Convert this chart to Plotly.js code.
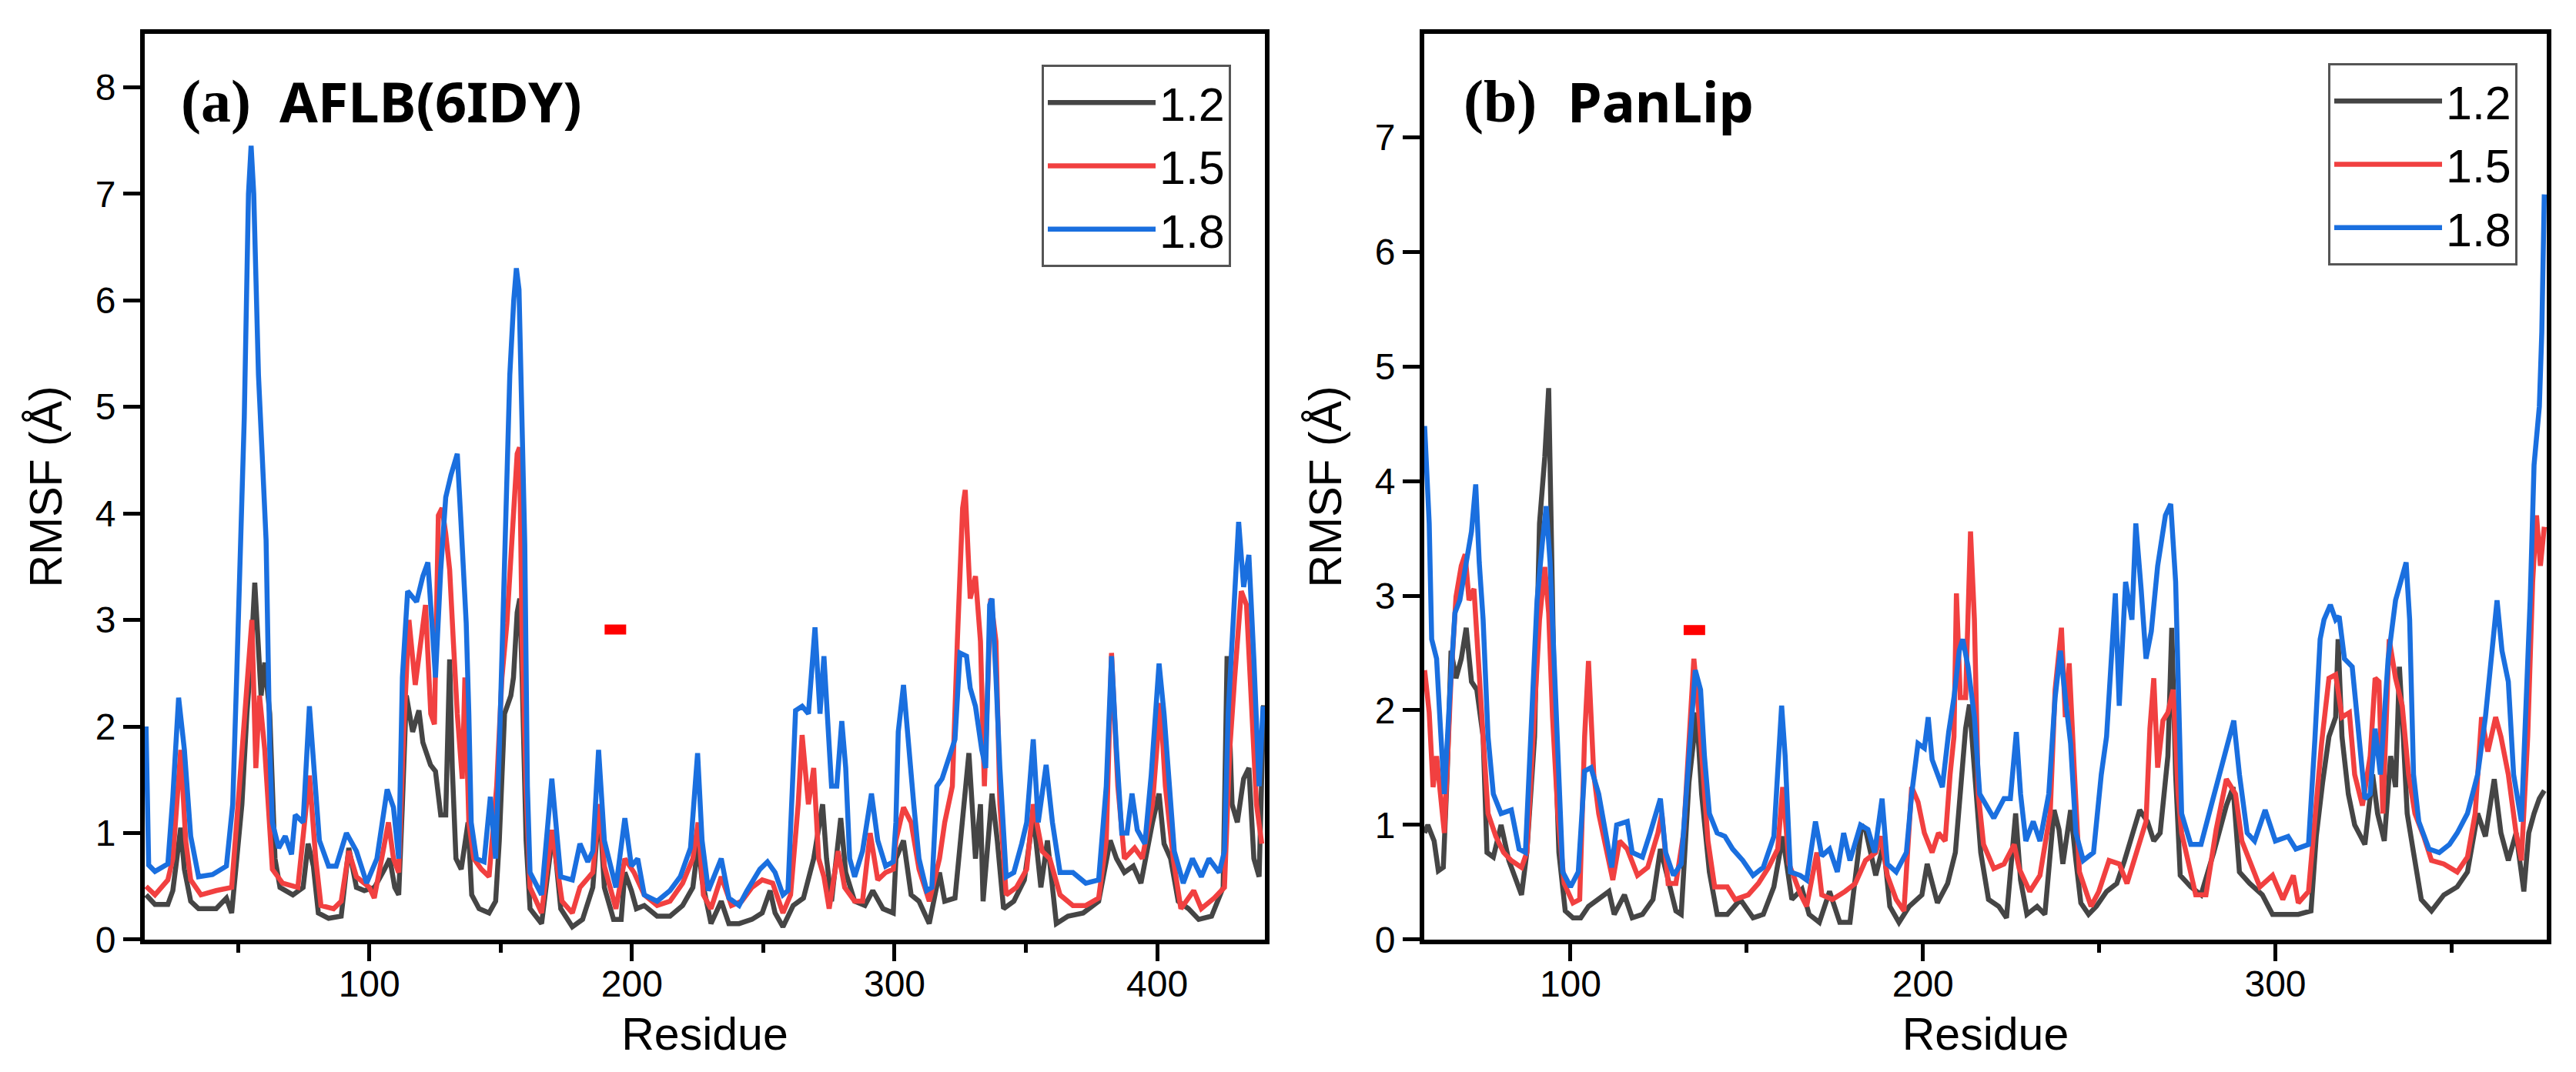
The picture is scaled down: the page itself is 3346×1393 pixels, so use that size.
<!DOCTYPE html>
<html>
<head>
<meta charset="utf-8">
<script src="https://cdn.plot.ly/plotly-3.0.1.min.js"></script>
<style>
  html, body { margin: 0; padding: 0; background: #fff; }
  #chart { width: 3346px; height: 1393px; }
</style>
</head>
<body>
<div id="chart"></div>
<script>
// ---- data: residue index vs RMSF (Å) ----

// (a) AFLB(6IDY)
var aX12 = [15,18.4,23.3,25.2,28.2,29.6,32,35,41.7,45.6,47.6,49.5,51.5,53.4,54.9,56.4,57.8,58.8,60.2,62.1,63.1,64.1,66,70.9,74.8,76.7,78.7,80.6,84.5,89.3,92.2,95.1,98.1,102,105.8,107.8,109.7,111.2,112.6,114.1,116.5,118.9,120.4,123.3,125.2,127.2,129.1,130.6,131.6,133,135,137.6,139,141.8,145.6,148.1,149.5,151.5,153.9,154.9,156.3,157.3,158.2,159.7,161.2,165.6,170,172.9,177.3,181.2,185.1,187.6,189.5,193,195.9,197.3,199.8,201.7,204.7,209.6,214.5,219.3,223.2,225.2,226.7,230.1,234,236.9,240.8,245.7,249.6,252.6,254.5,257.5,261.4,265.3,269.2,272.6,274.1,276,279.5,281.4,284.8,288.7,291.7,295.6,299.5,300.5,303.4,306.3,309.3,313.2,317.1,319.1,323,325.9,328.3,330.8,332.7,333.7,337.1,339.1,341.5,345.4,349.4,352.8,355.7,358.2,361.6,366,371.8,377.7,382.1,384.5,387.5,390.9,393.8,398.2,400.7,402.6,405.1,408,411.9,415.8,420.7,425.1,426.6,428.5,430.5,432.9,434.9,436.8,438.8,440.5];
var aY12 = [0.42,0.33,0.33,0.46,1.05,0.66,0.36,0.29,0.29,0.39,0.25,0.76,1.27,2.12,2.63,3.35,2.8,2.29,2.6,2.12,1.44,0.76,0.49,0.42,0.49,0.9,0.69,0.25,0.2,0.22,0.86,0.49,0.46,0.49,0.66,0.76,0.49,0.42,1.27,2.29,1.95,2.15,1.85,1.64,1.58,1.17,1.17,2.63,1.61,0.76,0.66,1.1,0.42,0.29,0.25,0.36,0.93,2.12,2.29,2.46,3.07,3.2,2.46,0.93,0.29,0.15,1.03,0.29,0.12,0.19,0.49,1.27,0.49,0.19,0.19,0.63,0.46,0.29,0.32,0.22,0.22,0.32,0.49,0.9,0.56,0.15,0.36,0.15,0.15,0.19,0.25,0.46,0.25,0.12,0.32,0.39,0.76,1.27,0.76,0.36,1.14,0.63,0.36,0.32,0.46,0.29,0.25,0.76,0.93,0.42,0.36,0.15,0.63,0.36,0.39,1.1,1.75,0.76,1.27,0.36,1.37,0.93,0.29,0.36,0.56,1.17,0.49,0.93,0.15,0.22,0.25,0.36,0.93,0.76,0.63,0.69,0.53,1.1,1.37,0.9,0.76,0.36,0.29,0.19,0.22,0.49,2.66,1.27,1.1,1.51,1.61,0.76,0.59,2.2];

var aX15 = [15,18.4,23.3,25.2,28.2,30.1,32,35.9,41.7,47.6,49.5,51.5,53.4,55.3,56.8,58.2,60.2,61.7,63.1,67,72.8,77.2,79.6,81.6,86.4,89.3,92.2,95.1,100,101.9,105.8,107.3,109.2,111.2,113.1,115.1,117.5,121.4,123.4,124.8,126.3,127.7,129.1,130.6,132,133.5,135.4,136.4,137.9,139.8,142.7,145.6,148.5,150.5,152.4,154.4,156.3,157.2,158.2,159.7,161.2,165.6,169.5,173.4,177.3,180.2,185.1,187.6,189.5,193.9,197.3,200.8,204.7,209.6,214.5,219.3,223.2,225.2,227.2,230.1,234,237.9,241.8,245.7,249.6,253.6,257.5,260.4,263.3,264.8,267.2,269.2,271.1,273.1,275.1,278.5,281,284.8,287.8,290.7,293.6,296.6,299.5,300.5,303.4,306.3,309.3,313.2,317.1,319.1,322,323.9,325.9,326.9,328.8,330.8,332.7,334.2,336.6,338.6,340.1,342.5,346.4,350.3,352.8,356.2,359.1,363,367.9,372.8,377.7,380.6,382.6,385,387.5,391.4,394.3,398.2,401.2,403.1,406.1,409,413.9,416.8,421.7,425.6,427.6,429.5,432,434,435.9,437.8,439.8];
var aY15 = [0.5,0.42,0.56,0.76,1.78,0.93,0.56,0.42,0.46,0.49,1.1,1.78,2.46,3.0,1.61,2.29,1.78,1.1,0.66,0.53,0.49,1.54,0.76,0.32,0.29,0.36,0.83,0.59,0.49,0.39,0.93,1.1,0.76,0.63,1.95,3.0,2.39,3.14,2.12,2.02,3.98,4.05,3.81,3.47,2.8,2.12,1.51,2.46,1.1,0.76,0.66,0.59,1.44,2.46,2.97,3.81,4.56,4.62,2.8,1.44,0.49,0.25,1.03,0.36,0.25,0.49,0.63,1.27,0.69,0.29,0.76,0.63,0.42,0.32,0.36,0.53,0.76,1.1,0.42,0.29,0.59,0.32,0.36,0.49,0.56,0.53,0.25,0.42,1.27,1.92,1.27,1.61,0.76,0.59,0.29,0.83,0.49,0.36,0.36,1.0,0.56,0.63,0.66,0.93,1.24,1.1,0.66,0.36,0.76,1.1,1.44,2.8,4.05,4.22,3.2,3.41,2.8,1.44,3.2,2.8,1.27,0.42,0.49,0.66,1.27,0.83,0.76,0.42,0.32,0.32,0.39,0.93,2.69,1.44,0.76,0.86,0.76,1.27,2.22,1.44,0.76,0.29,0.46,0.29,0.39,0.49,1.78,2.46,3.27,3.14,2.29,1.27,0.9];

var aX18 = [15,16,18.4,23.3,25.2,27.4,29.6,32,35,40.3,45.6,48,49.5,51,52.4,54,55,56,57,57.8,59.2,60.7,61.2,62.1,63.1,65.5,68,70.4,71.8,74.8,77.2,79.6,81,84.5,87.4,91.3,95.1,99,102.9,106.8,109.2,111.2,112.6,114.6,118,120.4,122.3,124.3,125.2,127.2,129.1,131.1,133.5,134.9,136.9,137.9,138.8,140.8,143.7,146.1,148.1,149.5,151,152.4,153.5,155,156,157,158,159.2,160.2,161.2,165.6,169.5,172.9,177.3,180.2,183.2,185.1,187.3,189.5,193.9,197.3,199.8,202.2,204.7,209.6,214.5,218.4,222.3,225,226.7,229.1,234,236.9,240.8,243.8,248.7,251.6,254.5,257.5,259.4,261.4,262.3,264.8,267.2,269.7,271.6,273.1,274.6,276,278,279.9,281.4,282.9,284.8,287.8,291.2,293.6,296.6,299.5,300.5,301.4,303.4,305.4,307.3,309.3,312.2,314.2,316.1,318.1,320.5,323,324.9,327.4,328.8,330.8,333.2,334.7,336.2,337.1,338.6,340.1,342.5,345.4,348.4,350.3,352.8,354.7,357.7,360.1,363,367.9,372.8,377.7,380.6,382.6,384.5,386.5,388.5,390.4,392.4,395.3,397.7,400.7,402.6,404.6,406.5,409.9,413.4,416.8,419.7,423.6,425.6,427,429,431,432.9,434.9,436.8,438.8,440.3];
var aY18 = [2.0,0.7,0.64,0.71,1.34,2.27,1.78,0.97,0.59,0.61,0.69,1.27,2.46,3.64,4.9,7.0,7.45,7.0,6.0,5.3,4.56,3.75,3.07,1.78,1.1,0.86,0.97,0.8,1.17,1.1,2.19,1.44,0.93,0.69,0.69,1.0,0.83,0.53,0.76,1.41,1.24,0.76,2.46,3.27,3.17,3.41,3.54,2.8,2.46,3.47,4.15,4.36,4.56,3.92,2.97,2.12,1.1,0.76,0.73,1.34,0.76,1.78,3.07,4.32,5.3,6.0,6.3,6.1,5.2,3.71,1.44,0.63,0.42,1.51,0.59,0.56,0.9,0.73,0.83,1.78,0.93,0.49,1.14,0.69,0.76,0.42,0.36,0.46,0.59,0.86,1.75,0.93,0.46,0.76,0.39,0.32,0.46,0.66,0.73,0.63,0.42,0.46,1.61,2.15,2.19,2.12,2.93,2.12,2.66,1.95,1.44,1.44,2.05,1.61,0.76,0.59,0.83,1.37,0.93,0.69,0.73,1.1,1.95,2.39,1.78,1.27,0.76,0.46,0.49,1.44,1.51,1.68,1.88,2.69,2.66,2.36,2.19,1.78,1.61,3.14,3.2,2.46,1.61,0.59,0.63,0.9,1.1,1.88,1.1,1.64,1.1,0.63,0.63,0.53,0.56,1.44,2.66,1.78,1.0,1.0,1.37,1.03,0.9,1.54,2.59,2.12,1.51,0.83,0.53,0.76,0.59,0.76,0.63,0.83,2.12,2.97,3.92,3.31,3.61,2.63,1.44,2.19];

// (b) PanLip
var bX12 = [58.6,59.5,61.3,62.5,63.9,65,66.1,67.5,69,70.4,71.9,73.4,75.2,76.3,78.1,80.3,82.5,86.1,87.6,89.8,91.2,92.7,93.8,94.9,95.6,96.7,98.5,100.7,102.9,105.1,108,110.9,112.4,115.3,117.5,120.4,123.4,125.5,127.4,129.9,131.4,133.6,135.8,137.2,139.4,141.6,144.5,148.2,151.8,154.7,157.7,160.2,162.8,165.7,167.7,170.6,173.5,176.4,179.3,182.6,183.7,186.6,188.8,190.6,193.2,196.1,199.7,201.2,204.1,207,209.2,210.6,212.1,213.2,214.6,216.4,218.6,221.5,223.7,226.3,227.7,229.5,232.4,234.6,237.2,238.6,239.7,241.9,243.4,244.8,247,249.2,252.1,255,257.2,259.3,261.5,263.7,265.5,267.3,269.5,270.6,271.7,273,276,278.9,282.5,286.1,288,289.8,292.7,296.3,299.2,302.9,306.5,310.1,311.6,313.4,315.2,317.1,317.8,318.9,320.7,322.5,325.4,327.6,329,330.9,332.7,334.1,335.2,336.3,337.4,339.2,341.4,344.3,347.8,351.6,354.5,357.4,359.6,362.1,364,366.1,368.3,370.5,371.9,373.4,374.9,376.3];
var bY12 = [0.93,1.0,0.86,0.6,0.63,1.44,2.52,2.28,2.45,2.72,2.25,2.18,1.77,0.76,0.72,1.0,0.69,0.39,0.76,1.77,3.63,4.21,4.81,3.13,1.77,0.76,0.25,0.19,0.19,0.29,0.35,0.42,0.22,0.39,0.19,0.22,0.35,0.79,0.56,0.25,0.22,1.37,1.98,1.27,0.59,0.22,0.22,0.35,0.19,0.22,0.46,0.9,0.35,0.44,0.22,0.15,0.42,0.15,0.15,1.0,0.96,0.56,0.83,0.29,0.15,0.29,0.39,0.66,0.32,0.49,0.76,1.27,1.84,2.05,1.44,0.76,0.35,0.29,0.19,1.1,0.52,0.22,0.29,0.22,1.13,0.96,0.66,1.13,0.69,0.32,0.22,0.29,0.42,0.49,0.69,0.9,1.13,1.03,0.86,0.93,1.6,2.72,1.44,0.56,0.46,0.39,0.76,1.17,1.33,0.59,0.49,0.39,0.22,0.22,0.22,0.25,0.9,1.37,1.77,1.94,2.62,1.77,1.27,1.0,0.83,1.44,1.1,0.86,1.6,1.33,2.38,1.77,1.1,0.76,0.35,0.25,0.39,0.46,0.59,1.1,0.9,1.4,0.93,0.69,0.93,0.42,0.93,1.1,1.23,1.3];

var bX15 = [58.6,59.9,61,62,64.2,66.1,67.5,69,70.1,71.2,72.6,73.7,75.2,76.6,78.8,81,83.2,86.1,87.6,89.4,91.2,92.7,93.8,94.9,96.4,98.2,100.7,102.6,104,105.1,106.6,108,110.2,112,113.9,116.1,119,121.9,124.8,125.9,127.7,129.9,132.1,133.6,135,136.5,137.6,139,140.9,144.5,146.7,150.4,153.3,156.2,158.8,160.2,162,165.2,167,169.9,171.3,174.3,177.9,180.8,183.7,186.6,188.1,189.9,192.4,194.6,196.8,198.6,200.4,202.6,204.4,206.3,207.7,208.8,209.5,210.6,212.1,213.5,214.6,215.7,217.2,220.1,223,225.9,227.3,230.3,233.2,236.1,237.5,239.3,240.4,241.5,243,244.4,247.7,249.9,252.8,255.7,257.9,260.8,263.3,264.4,265.5,266.6,268.1,269.5,271,272.4,273.4,275.2,277.4,280.3,283.2,286.1,288.7,290.5,292.7,295.6,299.2,302.1,305.1,306.5,309.4,311.2,313.1,315.2,317.1,318.9,321,322.5,324.7,326.9,328.3,329.4,330.5,332.3,334.1,336,337.8,339.6,342.1,344.3,347.8,351.6,354.5,356.7,358.5,360.3,362.5,364,366.1,368.3,369.8,371.6,373,374.1,375.2,376.3];
var bY15 = [2.35,1.98,1.33,1.6,0.93,2.28,2.99,3.26,3.36,2.96,3.06,2.45,1.77,1.1,0.9,0.76,0.69,0.63,0.76,1.77,2.79,3.25,2.85,1.94,1.1,0.49,0.32,0.35,1.77,2.43,1.44,1.1,0.79,0.52,0.86,0.79,0.56,0.63,0.93,1.1,0.49,0.49,0.93,1.77,2.45,1.94,1.44,0.86,0.46,0.46,0.35,0.39,0.49,0.63,0.79,1.33,0.66,0.4,0.29,0.76,0.39,0.35,0.42,0.49,0.69,0.76,0.9,0.56,0.35,0.25,1.33,1.2,0.93,0.76,0.93,0.86,1.44,1.77,3.02,2.11,2.11,3.56,2.79,1.27,0.83,0.62,0.66,0.83,0.62,0.42,0.56,1.1,2.18,2.72,1.94,2.41,1.44,0.59,0.29,0.42,0.69,0.66,0.49,0.79,1.03,1.84,2.28,1.5,1.91,1.98,2.18,1.27,0.93,0.69,0.39,0.39,0.96,1.4,1.27,0.86,0.69,0.46,0.56,0.35,0.56,0.32,0.42,1.1,1.71,2.28,2.31,1.94,1.98,1.44,1.17,1.6,2.28,2.25,1.1,2.62,2.28,2.04,1.44,1.1,0.9,0.69,0.66,0.59,0.72,1.1,1.94,1.64,1.94,1.77,1.44,0.93,0.69,1.77,3.12,3.7,3.26,3.6];

var bX18 = [58.6,59.9,60.6,62,63.1,64.2,65.7,67.2,68.6,70.4,71.9,73.1,74.1,75.2,76.6,78.1,80.3,83.2,85.4,87.2,89.1,90.5,92,93.1,94.2,95.3,96.4,97.8,100,102.2,104,105.8,108,110.2,111.7,113.1,116.1,117.5,120.4,122.6,125.5,127,129.2,131.4,133.6,135.4,136.9,138,139.4,141.6,143.8,146,148.9,151.8,154.7,157.7,159.9,160.9,162.4,165.2,167,169.5,171.3,173.5,175.7,177.5,179.3,182.3,184.4,186.3,188.4,189.9,192.4,195.3,196.8,198.6,200.4,201.5,202.6,205.5,207.3,208.8,210.3,211.3,212.8,214.6,216.1,217.9,220.1,223,224.8,226.5,227.7,229.2,231.3,233.2,235.7,237.5,239,240.4,241.9,243.4,245.5,248.4,250.6,252.1,253.5,254.6,255.7,257.5,259.3,260.4,261.9,263.3,264.8,266.6,268.8,270.3,271.7,272.4,273.4,276,278.9,281.8,285.4,288.2,289.8,292,294.1,297.1,300,303.6,305.8,309.4,311.2,312.7,313.8,315.6,317.1,318.1,319.6,321.8,323.2,325.4,326.9,328.3,329.8,332,334.1,337.1,338.1,339.2,340.7,343.6,346.5,349.4,351.6,354.5,357.4,359.6,361.8,362.9,364.3,366.1,367.6,369.8,371.2,372.3,373.4,374.9,375.6,376.3];
var bY18 = [4.48,3.63,2.62,2.45,1.84,1.27,2.11,2.85,2.96,3.26,3.56,3.97,3.29,2.79,1.77,1.27,1.1,1.13,0.79,0.76,2.11,2.96,3.46,3.78,3.29,2.45,1.44,0.59,0.46,0.59,1.47,1.5,1.27,0.86,0.63,1.0,1.03,0.76,0.72,0.93,1.23,0.76,0.56,0.66,1.6,2.35,2.18,1.6,1.1,0.93,0.9,0.79,0.69,0.56,0.63,0.9,2.04,1.6,0.59,0.56,0.52,1.03,0.73,0.79,0.59,0.93,0.69,1.0,0.96,0.76,1.23,0.66,0.59,0.76,1.27,1.71,1.67,1.94,1.57,1.33,1.81,2.11,2.52,2.62,2.38,1.94,1.27,1.17,1.06,1.23,1.23,1.81,1.27,0.86,1.03,0.86,1.27,2.11,2.52,2.11,1.71,0.93,0.69,0.76,1.44,1.77,2.45,3.02,2.04,3.12,2.79,3.63,3.06,2.45,2.69,3.26,3.7,3.8,3.12,2.28,1.1,0.83,0.83,1.17,1.57,1.91,1.44,0.93,0.86,1.13,0.86,0.9,0.79,0.83,1.74,2.62,2.79,2.92,2.79,2.82,2.45,2.38,1.94,1.23,1.27,1.84,1.44,2.45,2.96,3.29,2.79,1.44,1.03,0.79,0.76,0.83,0.93,1.1,1.44,1.94,2.62,2.96,2.52,2.25,1.44,1.03,2.11,2.96,4.14,4.65,5.3,6.5];

// short red marks drawn above the plots
var markAX = [189.6, 197.8], markAY = [2.91, 2.91];
var markBX = [132.1, 138.2], markBY = [2.70, 2.70];

var seriesNames = ['1.2', '1.5', '1.8'];
var seriesColors = ['#454545', '#f14040', '#1a6fdf'];

var W = 3346, H = 1393;

function lineTrace(x, y, i, xa, ya, leg) {
    return {
        x: x, y: y, xaxis: xa, yaxis: ya,
        type: 'scatter', mode: 'lines',
        name: seriesNames[i],
        legend: leg,
        line: { color: seriesColors[i], width: 6.5 },
        hoverinfo: 'skip'
    };
}

function markTrace(x, y, xa, ya) {
    return {
        x: x, y: y, xaxis: xa, yaxis: ya,
        type: 'scatter', mode: 'lines', showlegend: false,
        line: { color: '#ff0000', width: 13 },
        hoverinfo: 'skip'
    };
}

var traces = [
    lineTrace(aX12, aY12, 0, 'x', 'y', 'legend'),
    lineTrace(aX15, aY15, 1, 'x', 'y', 'legend'),
    lineTrace(aX18, aY18, 2, 'x', 'y', 'legend'),
    markTrace(markAX, markAY, 'x', 'y'),
    lineTrace(bX12, bY12, 0, 'x2', 'y2', 'legend2'),
    lineTrace(bX15, bY15, 1, 'x2', 'y2', 'legend2'),
    lineTrace(bX18, bY18, 2, 'x2', 'y2', 'legend2'),
    markTrace(markBX, markBY, 'x2', 'y2')
];

var tickFont = { family: 'Liberation Sans, Arial, sans-serif', size: 48, color: '#000' };
var titleFont = { family: 'Liberation Sans, Arial, sans-serif', size: 59, color: '#000' };

function xAxis(range, domain, anchor) {
    return {
        domain: domain, range: range, anchor: anchor,
        showline: true, mirror: true, linecolor: '#000', linewidth: 6,
        showgrid: false, zeroline: false,
        ticks: 'outside', ticklen: 22, tickwidth: 5, tickcolor: '#000',
        dtick: 100, tick0: 0,
        minor: { ticks: 'outside', dtick: 50, tick0: 0, ticklen: 11, tickwidth: 5, tickcolor: '#000', showgrid: false },
        tickfont: tickFont, ticklabelstandoff: -12,
        title: { text: 'Residue', font: titleFont, standoff: 21 },
        automargin: false, fixedrange: true
    };
}

function yAxis(range, anchor) {
    return {
        domain: [0.1235, 0.9684], range: range, anchor: anchor,
        showline: true, mirror: true, linecolor: '#000', linewidth: 6,
        showgrid: false, zeroline: false,
        ticks: 'outside', ticklen: 22, tickwidth: 5, tickcolor: '#000',
        dtick: 1, tick0: 0,
        tickfont: tickFont,
        title: { text: 'RMSF (Å)', font: titleFont, standoff: 26 },
        automargin: false, fixedrange: true
    };
}

function legendBox(x, y) {
    return {
        x: x, y: y, xanchor: 'left', yanchor: 'top',
        xref: 'paper', yref: 'paper',
        bgcolor: '#fff', bordercolor: '#555', borderwidth: 3,
        font: { family: 'Liberation Sans, Arial, sans-serif', size: 61, color: '#000' },
        itemwidth: 140, tracegroupgap: 0,
        itemclick: false, itemdoubleclick: false
    };
}

function label(text, x, family, size) {
    return {
        text: '<b>' + text + '</b>', xref: 'paper', yref: 'paper',
        x: x, y: 1 - 131 / H, xanchor: 'left', yanchor: 'middle',
        showarrow: false,
        font: { family: family, size: size, color: '#000' }
    };
}

var serif = 'Liberation Serif, Times New Roman, serif';
var sansBold = 'Noto Sans, Liberation Sans, Arial, sans-serif';

var layout = {
    width: W, height: H,
    margin: { l: 0, r: 0, t: 0, b: 0, pad: 0 },
    paper_bgcolor: '#fff', plot_bgcolor: '#fff',
    showlegend: true,
    xaxis: xAxis([14.5, 441], [188 / W, 1643 / W], 'y'),
    yaxis: yAxis([0, 8.5], 'x'),
    xaxis2: xAxis([58.5, 377], [1850 / W, 3308 / W], 'y2'),
    yaxis2: yAxis([0, 7.9], 'x2'),
    legend: legendBox(1353 / W, 1 - 84 / H),
    legend2: legendBox(3024 / W, 1 - 82 / H),
    annotations: [
        label('(a)', 233 / W, serif, 78),
        label('AFLB(6IDY)', 361 / W, sansBold, 72),
        label('(b)', 1899 / W, serif, 78),
        label('PanLip', 2034 / W, sansBold, 72)
    ]
};

Plotly.newPlot('chart', traces, layout, { staticPlot: true, displayModeBar: false, responsive: false });
</script>
</body>
</html>
